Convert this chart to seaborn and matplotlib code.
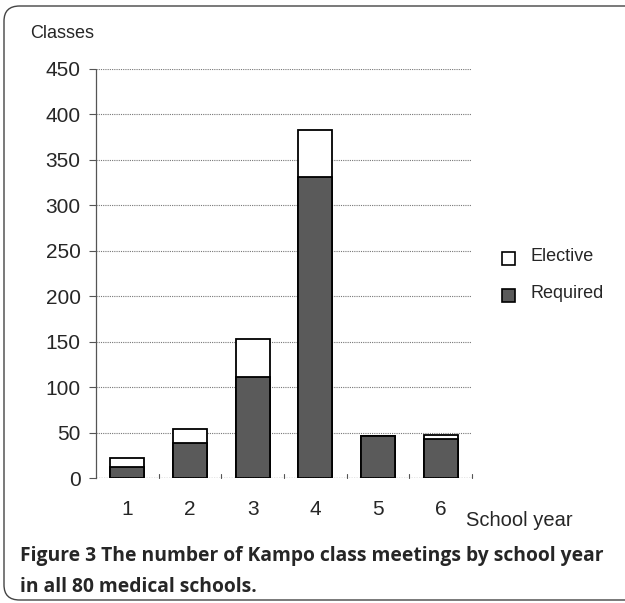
import matplotlib
matplotlib.use("Agg")
import matplotlib.pyplot as plt
import seaborn as sns
import pandas as pd
from matplotlib.patches import FancyBboxPatch, Rectangle

years = ["1", "2", "3", "4", "5", "6"]
required = [12, 38, 111, 331, 46, 43]
elective = [10, 16, 42, 52, 0, 4]
yticks = [0, 50, 100, 150, 200, 250, 300, 350, 400, 450]

total = [r + e for r, e in zip(required, elective)]
df = pd.DataFrame({"year": years, "required": required, "total": total})

sns.set_theme(style="white")
plt.rcParams["font.family"] = ["Liberation Sans", "DejaVu Sans"]

W, H = 625, 603
fig = plt.figure(figsize=(6.25, 6.03), dpi=100)
ax = fig.add_axes([96/W, 1-478/H, 376/W, 409/H])

GRAY = "#5a5a5a"
sns.barplot(data=df, x="year", y="total", color="white", edgecolor="black",
            linewidth=1.3, width=0.54, ax=ax, saturation=1, zorder=3)
sns.barplot(data=df, x="year", y="required", color=GRAY, edgecolor="black",
            linewidth=1.3, width=0.54, ax=ax, saturation=1, zorder=4)

ax.set_ylim(0, 450)
ax.set_xlim(-0.5, 5.5)
ax.set_yticks(yticks)
ax.set_yticklabels([str(v) for v in yticks], fontsize=15)
ax.set_xticks(range(len(years)))
ax.set_xticklabels(years, fontsize=15)
for v in yticks[1:]:
    ax.axhline(v, color="#777777", lw=0.8, ls=(0, (1, 1)), zorder=1)
ax.axhline(0, color="#444444", lw=0.9, ls=(0, (1, 1)), zorder=5)
for s in ["top", "right", "bottom"]:
    ax.spines[s].set_visible(False)
ax.spines["left"].set_linestyle((0, (1, 1)))
ax.spines["left"].set_color("#555555")
ax.spines["left"].set_linewidth(0.9)
ax.tick_params(axis="y", length=5, width=0.8, color="#555555", pad=6, left=True)
ax.tick_params(axis="x", length=0, pad=16)
for b in [0.5, 1.5, 2.5, 3.5, 4.5, 5.5]:
    ax.plot([b, b], [0, 4], color="#555555", lw=0.8, zorder=5, clip_on=False)
ax.set_xlabel("")
ax.set_ylabel("")

fig.text(30/W, 1-33/H, "Classes", fontsize=13, va="center", ha="left")
fig.text(466/W, 1-521/H, "School year", fontsize=14.5, va="center", ha="left")

# legend
fig.patches.append(Rectangle((502/W, 1-265/H), 13/W, 13/H, transform=fig.transFigure,
                             facecolor="white", edgecolor="black", lw=1.2))
fig.patches.append(Rectangle((502/W, 1-302/H), 13/W, 13/H, transform=fig.transFigure,
                             facecolor=GRAY, edgecolor="black", lw=1.2))
fig.text(530/W, 1-256/H, "Elective", fontsize=13, va="center", ha="left")
fig.text(530/W, 1-294/H, "Required", fontsize=13, va="center", ha="left")

# frame (rounded left corners, open to the right)
frame = FancyBboxPatch((4/W, 3/H), 660/W, 594/H, boxstyle="round,pad=0,rounding_size=0.025",
                       transform=fig.transFigure, facecolor="none", edgecolor="#444444", lw=1)
fig.patches.append(frame)

cap = dict(fontsize=13.9, fontweight="bold", family=["Open Sans", "DejaVu Sans"], va="center", ha="left")
fig.text(20/W, 1-556/H, "Figure 3 The number of Kampo class meetings by school year", **cap)
fig.text(20/W, 1-587/H, "in all 80 medical schools.", **cap)

fig.savefig("out.png", dpi=100)
